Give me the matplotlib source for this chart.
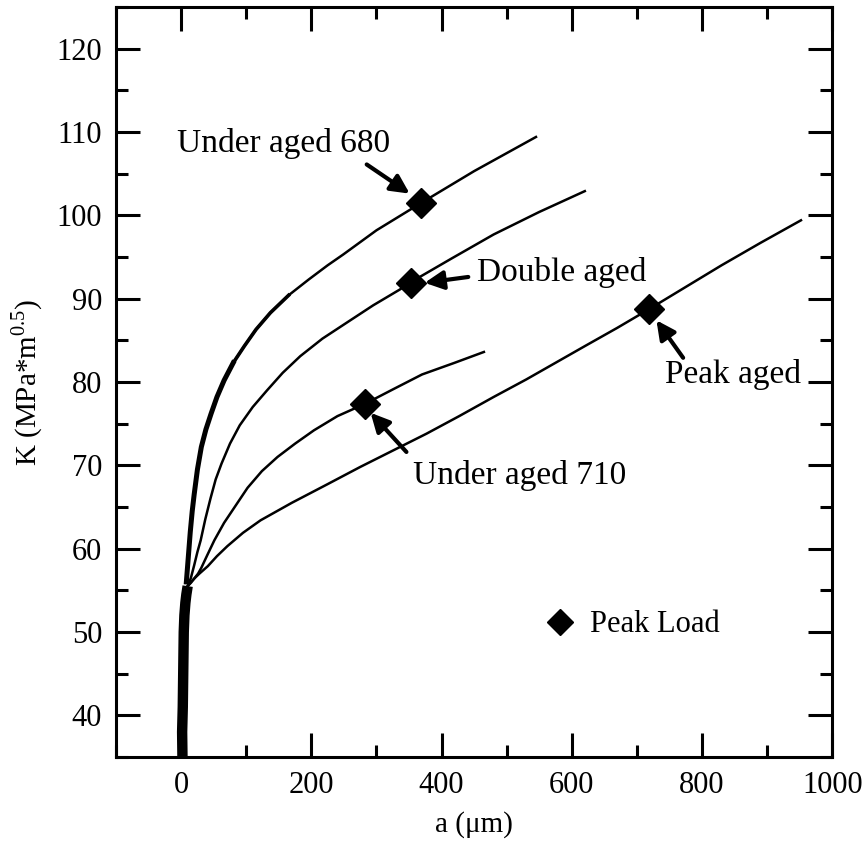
import numpy as np
import matplotlib as mpl
mpl.use("Agg")
import matplotlib.pyplot as plt
from matplotlib.ticker import MultipleLocator

mpl.rcParams.update({
    "font.family": "serif",
    "font.serif": ["Liberation Serif", "DejaVu Serif"],
    "mathtext.fontset": "custom",
    "mathtext.rm": "Liberation Serif",
    "axes.linewidth": 2.2,
})

# ===== DATA =====
# shared noisy stem near a = 0
stem_a = [2, 1.5, 2.5, 3, 3.5, 4, 5, 6.5, 8, 10]
stem_k = [35, 38, 41, 44, 47, 50, 52, 53.5, 54.5, 55.5]

ua680_a = [8, 11, 14, 17, 20, 25, 31, 38, 46, 55, 66, 80, 97, 115, 137, 165, 196,
           225, 249, 300, 369, 450, 545]
ua680_k = [56, 59, 62, 64.5, 66.5, 69.5, 72.2, 74.3, 76.2, 78.2, 80.2, 82.3, 84.3,
           86.3, 88.3, 90.4, 92.3, 94, 95.3, 98.2, 101.5, 105.3, 109.4]

da_a = [10, 15, 20, 25, 30, 37, 45, 53, 62, 75, 90, 110, 132, 156, 183, 217, 254,
        295, 336, 351, 415, 480, 550, 620]
da_k = [55.5, 56.5, 58, 59.6, 61, 63.5, 66, 68.3, 70.2, 72.6, 74.8, 77, 79, 81.1,
        83.1, 85.2, 87.1, 89.2, 91.1, 91.9, 94.8, 97.7, 100.4, 102.9]

ua710_a = [10, 15, 20, 26, 31, 40, 51, 66, 84, 102, 124, 148, 175, 204, 240, 283,
           325, 370, 420, 465]
ua710_k = [55.5, 55.9, 56.4, 57, 57.7, 59.2, 61, 63.1, 65.2, 67.3, 69.3, 71, 72.6,
           74.2, 75.9, 77.4, 79.1, 80.9, 82.3, 83.6]

pa_a = [10, 14, 20, 28, 41, 55, 71, 95, 122, 170, 224, 275, 326, 377, 427, 480,
        530, 575, 620, 670, 720, 775, 830, 890, 952]
pa_k = [55.5, 55.9, 56.4, 57, 57.9, 59.1, 60.3, 61.9, 63.4, 65.5, 67.7, 69.8, 71.8,
        73.8, 75.9, 78.2, 80.3, 82.3, 84.3, 86.5, 88.8, 91.4, 94, 96.7, 99.4]

# peak load points: under aged 680, double aged, under aged 710, peak aged
peak_a = [369, 353, 282, 719]
peak_k = [101.5, 91.9, 77.4, 88.8]

# ===== PLOT =====
fig = plt.figure(figsize=(8.66, 8.49), dpi=100)
ax = fig.add_axes([0.134, 0.1084, 0.827, 0.8834])

ax.plot(stem_a, stem_k, "-", color="black", lw=7.5, solid_capstyle="butt")
for xs, ys in [(ua680_a, ua680_k), (da_a, da_k), (ua710_a, ua710_k), (pa_a, pa_k)]:
    ax.plot(xs, ys, "-", color="black", lw=1.8, solid_joinstyle="round")
# the top curve is noisier in its steep part
ax.plot(ua680_a[:12], ua680_k[:12], "-", color="black", lw=3.6)
ax.plot(ua680_a[11:16], ua680_k[11:16], "-", color="black", lw=2.6)

ax.plot(peak_a, peak_k, "D", color="black", ms=15, ls="none", label="Peak Load")

arrow = dict(arrowstyle="-|>", color="black", lw=3, mutation_scale=28,
             shrinkA=0, shrinkB=0)
ax.text(-7, 107.6, "Under aged 680", fontsize=24, ha="left", va="baseline")
ax.annotate("", xy=(351, 102.6), xytext=(285, 106.1), arrowprops=arrow)
ax.text(455, 92.1, "Double aged", fontsize=24, ha="left", va="baseline")
ax.annotate("", xy=(374, 91.9), xytext=(441, 92.6), arrowprops=arrow)
ax.text(743, 79.9, "Peak aged", fontsize=24, ha="left", va="baseline")
ax.annotate("", xy=(730, 87.4), xytext=(771, 82.9), arrowprops=arrow)
ax.text(356, 67.8, "Under aged 710", fontsize=24, ha="left", va="baseline")
ax.annotate("", xy=(291, 76.3), xytext=(346, 71.6), arrowprops=arrow)

ax.set_xlim(-100, 1000)
ax.set_ylim(35, 125)
ax.xaxis.set_major_locator(MultipleLocator(200))
ax.xaxis.set_minor_locator(MultipleLocator(100))
ax.yaxis.set_major_locator(MultipleLocator(10))
ax.yaxis.set_minor_locator(MultipleLocator(5))
ax.tick_params(which="both", direction="in", top=True, right=True,
               labelsize=22, width=2.2)
ax.tick_params(which="major", length=17, pad=10)
ax.tick_params(which="minor", length=8.5)

ax.set_xlabel("a (\u03bcm)", fontsize=21, labelpad=8)
ax.set_ylabel(r"K (MPa*m$^{0.5}$)", fontsize=21, labelpad=8)

ax.legend(loc="center left", bbox_to_anchor=(0.598, 0.176), frameon=False,
          fontsize=22, handlelength=1.0, handletextpad=0.5, markerscale=0.85,
          borderpad=0, borderaxespad=0)

fig.savefig("out.png", dpi=100)
